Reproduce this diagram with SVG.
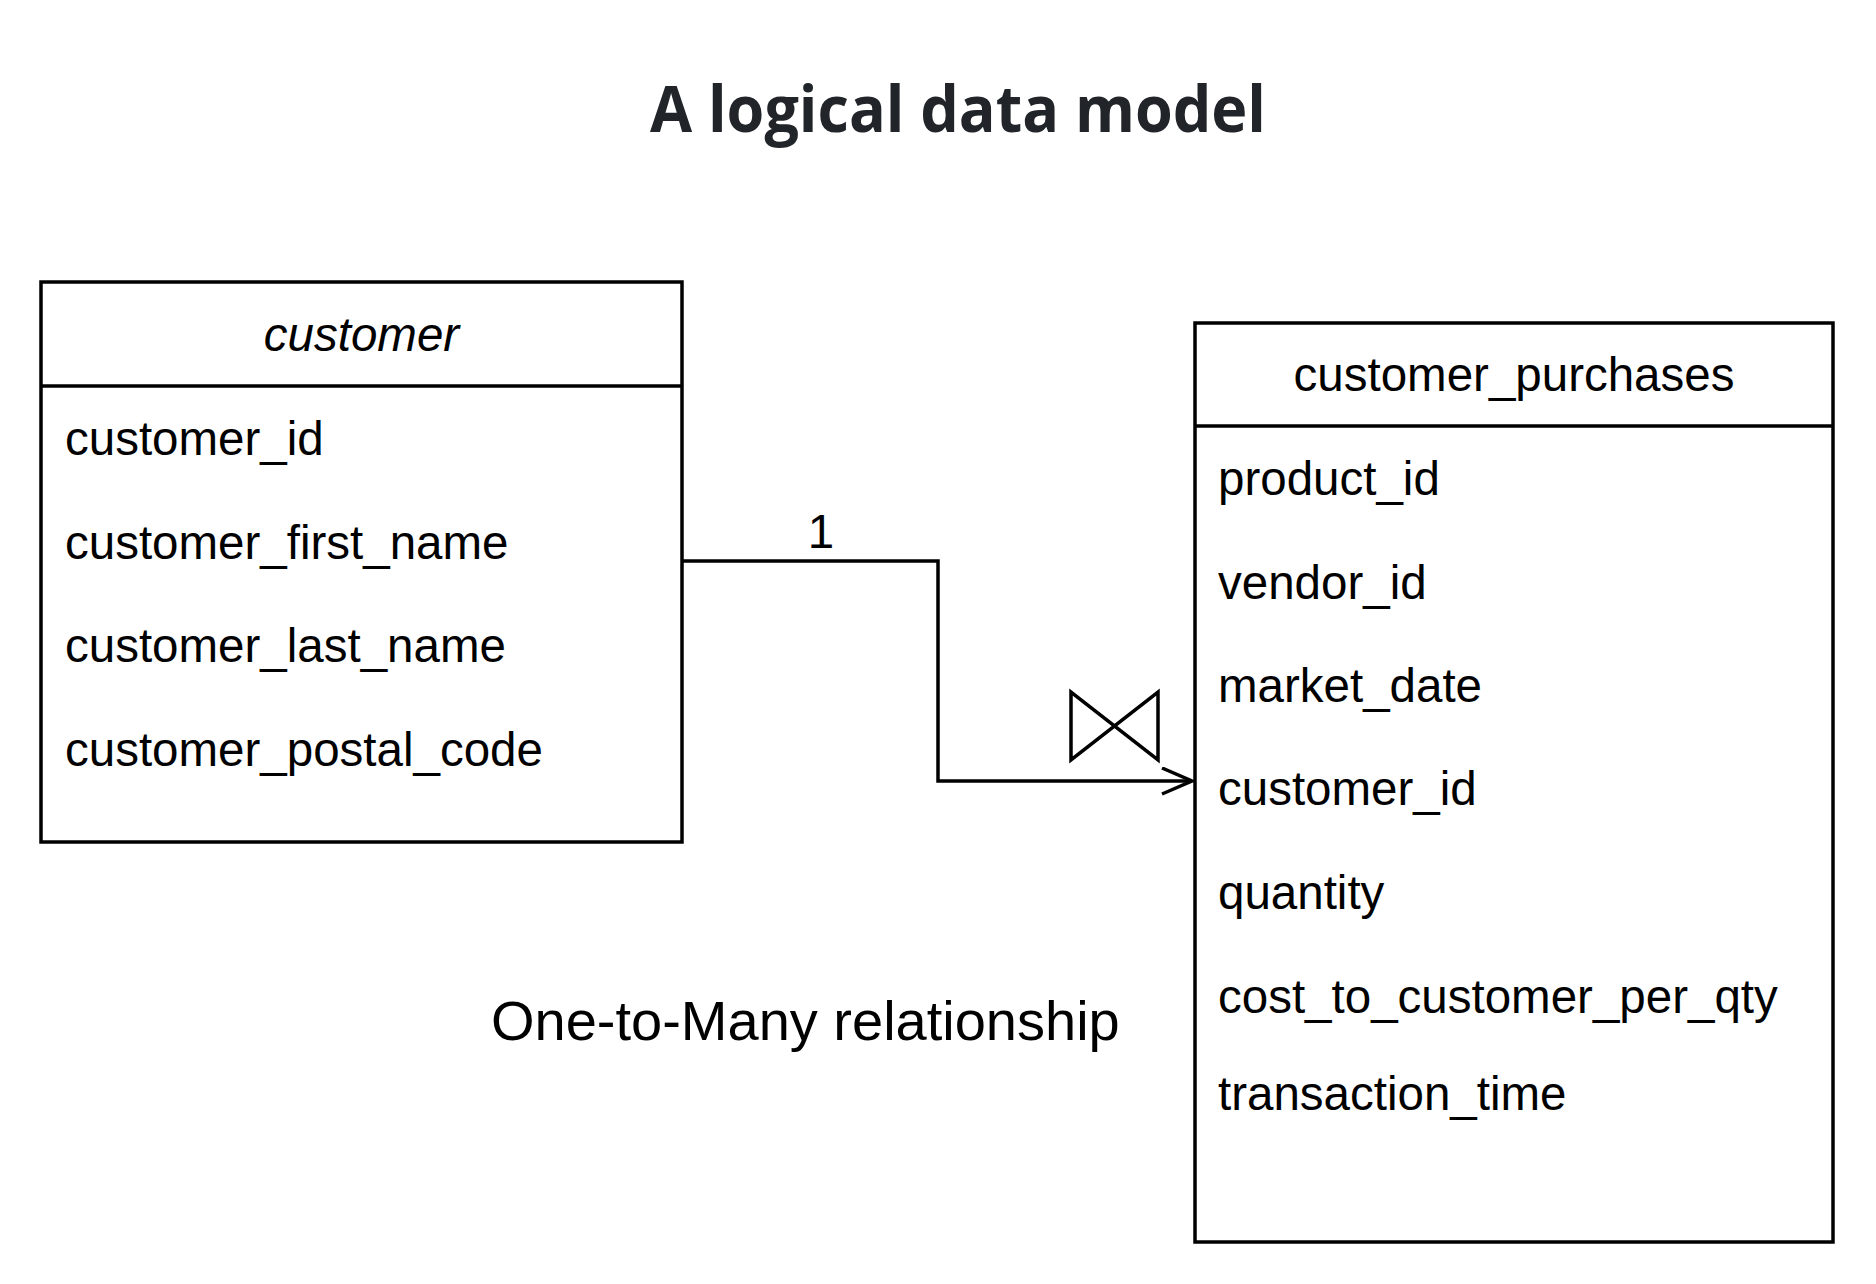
<svg xmlns="http://www.w3.org/2000/svg" width="1876" height="1284" viewBox="0 0 1876 1284">
  <style>
    .box { fill: #ffffff; stroke: #000000; stroke-width: 3.5; }
    .sep { stroke: #000000; stroke-width: 3.5; }
    .txt { font-family: "Liberation Sans", Arial, sans-serif; font-size: 47.5px; fill: #000000; }
    .hdr { text-anchor: middle; }
    .big { font-size: 56px; }
    .conn { fill: none; stroke: #000000; stroke-width: 3.5; }
    .title { font-family: "Open Sans", "Noto Sans", sans-serif; font-weight: 700; font-size: 64px; fill: #212529; }
  </style>
  <defs>
    <marker id="openArrow" markerUnits="userSpaceOnUse" markerWidth="40" markerHeight="40" refX="31" refY="14" orient="auto">
      <path d="M1,1 L31,14 L1,27" fill="none" stroke="#000000" stroke-width="3.5"/>
    </marker>
  </defs>
  <rect width="1876" height="1284" fill="#ffffff"/>

  <text class="title" x="650" y="132" textLength="616" lengthAdjust="spacingAndGlyphs">A logical data model</text>

  <g id="customer">
    <rect class="box" x="41" y="282" width="641" height="560"/>
    <line class="sep" x1="41" y1="386" x2="682" y2="386"/>
    <text class="txt hdr" x="361.5" y="351" font-style="italic">customer</text>
    <text class="txt" x="65" y="455">customer_id</text>
    <text class="txt" x="65" y="558.5">customer_first_name</text>
    <text class="txt" x="65" y="662">customer_last_name</text>
    <text class="txt" x="65" y="765.5">customer_postal_code</text>
  </g>

  <g id="customer_purchases">
    <rect class="box" x="1195" y="323" width="638" height="919"/>
    <line class="sep" x1="1195" y1="426" x2="1833" y2="426"/>
    <text class="txt hdr" x="1514" y="391">customer_purchases</text>
    <text class="txt" x="1218" y="495">product_id</text>
    <text class="txt" x="1218" y="598.5">vendor_id</text>
    <text class="txt" x="1218" y="702">market_date</text>
    <text class="txt" x="1218" y="805">customer_id</text>
    <text class="txt" x="1218" y="908.5">quantity</text>
    <text class="txt" x="1218" y="1013">cost_to_customer_per_qty</text>
    <text class="txt" x="1218" y="1110">transaction_time</text>
  </g>

  <g id="connectors">
    <path class="conn" d="M682,561 L938,561 L938,781 L1192,781" marker-end="url(#openArrow)"/>
    <text class="txt hdr" x="821" y="548">1</text>
    <path class="conn" d="M1071,692 L1071,760 L1158,692 L1158,760 Z"/>
  </g>

  <text class="txt big" x="491" y="1040">One-to-Many relationship</text>
</svg>
